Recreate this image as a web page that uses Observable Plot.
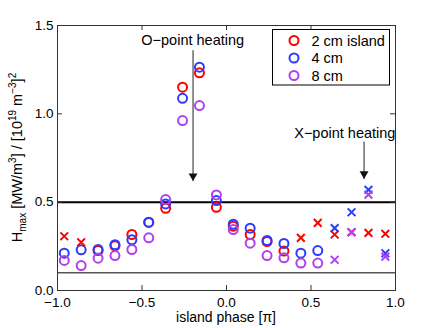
<!DOCTYPE html>
<html><head><meta charset="utf-8">
<script src="https://cdn.jsdelivr.net/npm/d3@7"></script>
<script src="https://cdn.jsdelivr.net/npm/@observablehq/plot@0.6"></script>
<style>
body{margin:0;background:#fff}
#chart{position:relative;width:436px;height:328px}
</style>
</head><body><div id="chart"></div>
<script>
// ---- data ----
const phase = [-0.96,-0.86,-0.76,-0.66,-0.56,-0.46,-0.36,-0.26,-0.16,-0.06,0.04,0.14,0.24,0.34,0.44,0.54,0.64,0.74,0.84,0.94];
const seriesNames = ["2 cm island","4 cm","8 cm"];
const seriesColors = ["#ff0000","#2a3cff","#b040f0"];
const red    = [0.307,0.273,0.226,0.253,0.317,0.385,0.465,1.151,1.232,0.471,0.364,0.317,0.277,0.223,0.298,0.383,0.317,0.330,0.326,0.321];
const blue   = [0.211,0.230,0.232,0.259,0.287,0.387,0.490,1.088,1.264,0.509,0.375,0.353,0.283,0.266,0.211,0.226,0.353,0.443,0.570,0.211];
const purple = [0.170,0.141,0.183,0.198,0.232,0.298,0.515,0.962,1.047,0.541,0.345,0.268,0.198,0.185,0.155,0.155,0.174,0.330,0.543,0.192];
const redMarker    = ["x","x","o","o","o","o","o","o","o","o","o","o","o","o","x","x","x","x","x","x"];
const blueMarker   = ["o","o","o","o","o","o","o","o","o","o","o","o","o","o","o","o","x","x","x","x"];
const purpleMarker = ["o","o","o","o","o","o","o","o","o","o","o","o","o","o","o","o","x","x","x","x"];
const xTicks = [-1,-0.5,0,0.5,1];
const yTicks = [0,0.5,1,1.5];
const thickLine = [0.5];
const thinLine = [0.1];
const annLabels = ["O−point heating","X−point heating"];
const annTextX = [-0.2,0.70];
const annTextY = [1.418,0.892];
const arrowX  = [-0.198,0.814];
const arrowY1 = [1.36,0.843];
const arrowY2 = [0.62,0.632];

// ---- build table ----
const values = [red, blue, purple];
const markers = [redMarker, blueMarker, purpleMarker];
const rows = [];
seriesNames.forEach((s, j) => phase.forEach((p, i) => rows.push({phase: p, value: values[j][i], series: s, marker: markers[j][i]})));
const ann = annLabels.map((l, i) => ({label: l, tx: annTextX[i], ty: annTextY[i], ax: arrowX[i], y1: arrowY1[i], y2: arrowY2[i]}));

const W = 436, H = 328, mL = 57, mR = 41, mT = 25, mB = 38;
const fw = W - mL - mR, fh = H - mT - mB, tl = 5;
const font = "'Liberation Sans', Arial, Helvetica, sans-serif";

const plot = Plot.plot({
  width: W, height: H,
  marginLeft: mL, marginRight: mR, marginTop: mT, marginBottom: mB,
  style: {fontFamily: font, fontSize: "13.5px", color: "#000", background: "#fff"},
  x: {domain: [-1, 1], ticks: xTicks, tickSize: 0, tickPadding: 6.5, label: null},
  y: {domain: [0, 1.5], ticks: yTicks, tickSize: 0, tickPadding: 4, label: null},
  color: {domain: seriesNames, range: seriesColors},
  marks: [
    Plot.ruleY(thinLine, {y: d => d, stroke: "#555", strokeWidth: 1.5}),
    Plot.ruleY(thickLine, {y: d => d, stroke: "#000", strokeWidth: 2}),
    Plot.tickX(xTicks, {x: d => d, insetTop: fh - tl, stroke: "#333"}),
    Plot.tickX(xTicks, {x: d => d, insetBottom: fh - tl, stroke: "#333"}),
    Plot.tickY(yTicks, {y: d => d, insetRight: fw - tl, stroke: "#333"}),
    Plot.tickY(yTicks, {y: d => d, insetLeft: fw - tl, stroke: "#333"}),
    Plot.frame({stroke: "#333"}),
    Plot.link(ann, {x: "ax", y1: "y1", y2: "y2", stroke: "#222", strokeWidth: 1}),
    Plot.dot(ann, {x: "ax", y: "y2", symbol: "triangle", rotate: 180, r: 3.3, fill: "#111", stroke: "none", dy: -5}),
    Plot.text(ann, {x: "tx", y: "ty", text: "label", fontSize: 14.5, fill: "#000"}),
    Plot.dot(rows.filter(d => d.marker === "o"), {x: "phase", y: "value", stroke: "series", symbol: "circle", r: 4.5, strokeWidth: 2}),
    Plot.dot(rows.filter(d => d.marker === "x"), {x: "phase", y: "value", stroke: "series", symbol: "times", r: 3.6, strokeWidth: 2})
  ]
});
document.getElementById("chart").appendChild(plot);

// ---- labels and legend ----
const svg = d3.select(plot);
// x label
svg.append("text").attr("x", mL + fw / 2).attr("y", 322).attr("text-anchor", "middle")
  .style("font-family", font).style("font-size", "14px").text("island phase [π]");
// y label with sub/superscripts
const yl = svg.append("text").attr("transform", `translate(22,${mT + fh / 2}) rotate(-90)`)
  .attr("text-anchor", "middle").style("font-family", font).style("font-size", "14.5px");
const parts = [["H", 0], ["max", -1], [" [MW/m", 0], ["3", 1], ["] / [10", 0], ["19", 1], [" m", 0], ["−3", 1], ["]", 0], ["2", 1]];
let prev = 0;
parts.forEach(([t, s]) => {
  const off = s === 1 ? -6 : s === -1 ? 4 : 0;
  yl.append("tspan").attr("dy", off - prev).style("font-size", s ? "10px" : "14.5px").text(t);
  prev = off;
});
// legend
const lg = svg.append("g");
lg.append("rect").attr("x", 272.5).attr("y", 29.5).attr("width", 117).attr("height", 55.5)
  .attr("fill", "#fff").attr("stroke", "#000").attr("stroke-width", 1);
seriesNames.forEach((s, i) => {
  const cy = 40.5 + i * 17.5;
  lg.append("circle").attr("cx", 294).attr("cy", cy).attr("r", 4.5).attr("fill", "none")
    .attr("stroke", seriesColors[i]).attr("stroke-width", 2);
  lg.append("text").attr("x", 311.5).attr("y", cy + 5).attr("text-anchor", "start")
    .style("font-family", font).style("font-size", "14.5px").text(s);
});
</script>
</body></html>
